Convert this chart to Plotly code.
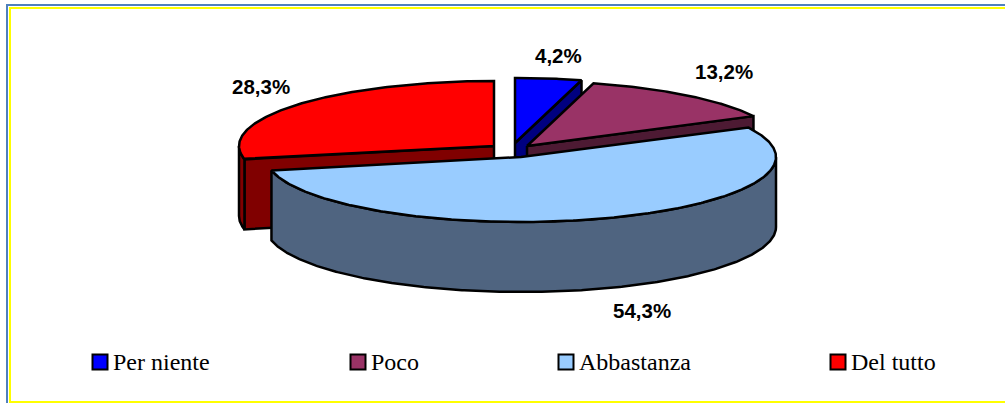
import numpy as np
import plotly.graph_objects as go

# ---- data ----
categories = ["Per niente", "Poco", "Abbastanza", "Del tutto"]
shares = [4.2, 13.2, 54.3, 28.3]

# ---- style ----
top_colors = ["#0000FF", "#993366", "#99CCFF", "#FF0000"]
side_colors = ["#000080", "#4D1A33", "#4F6480", "#800000"]

# ---- layout of the pseudo-3D pie, in page pixels ----
W, H = 1005, 403
A, B, DEPTH = 255, 65, 70
CENTRES = {"Per niente": (515, 143), "Poco": (527, 146), "Abbastanza": (521, 157), "Del tutto": (494, 146)}
LABEL_POS = {"Per niente": (558, 55), "Poco": (724, 71), "Abbastanza": (642, 310), "Del tutto": (261, 86)}
LEGEND_MARK_X = [100, 358, 566, 838]
LEGEND_TEXT_X = [113, 371, 579, 851]
LEGEND_Y = 362
DRAW_ORDER = ["Del tutto", "Per niente", "Poco", "Abbastanza"]


def arc(c, t0, t1, dy=0):
    t = np.radians(np.linspace(t0, t1, max(2, int(abs(t1 - t0) * 2))))
    return c[0] + A * np.sin(t), c[1] - B * np.cos(t) + dy


def poly(x, y, color):
    return go.Scatter(
        x=np.append(x, x[0]), y=np.append(y, y[0]), mode="lines", fill="toself",
        fillcolor=color, line=dict(color="black", width=2.5), hoverinfo="skip", showlegend=False,
    )


edges = np.concatenate([[0], np.cumsum(shares)]) * 3.6
fig = go.Figure()

for name in DRAW_ORDER:
    i = categories.index(name)
    t0, t1 = edges[i], edges[i + 1]
    c = CENTRES[name]
    side = side_colors[i]

    # straight cut face of the slice (front-facing for all but Abbastanza)
    if name != "Abbastanza":
        ex, ey = arc(c, t1, t1 + 0.01)
        if name == "Del tutto":
            ex, ey = arc(c, t0, t0 + 0.01)
        fig.add_trace(poly(np.array([c[0], ex[0], ex[0], c[0]]),
                           np.array([c[1], ey[0], ey[0] + DEPTH, c[1] + DEPTH]), side))

    # rounded outer wall: only the part on the near half of the ellipse
    lo, hi = max(t0, 90), min(t1, 270)
    if hi > lo:
        ox, oy = arc(c, lo, hi)
        ux, uy = arc(c, hi, lo, DEPTH)
        fig.add_trace(poly(np.concatenate([ox, ux]), np.concatenate([oy, uy]), side))

    # top face
    ax, ay = arc(c, t0, t1)
    fig.add_trace(poly(np.concatenate([[c[0]], ax]), np.concatenate([[c[1]], ay]), top_colors[i]))

# percent labels
for name, v in zip(categories, shares):
    lx, ly = LABEL_POS[name]
    fig.add_annotation(x=lx, y=ly, text=f"<b>{v:.1f}%</b>".replace(".", ","), showarrow=False,
                       font=dict(family="Liberation Sans", size=20.5, color="black"))

# legend row
for name, color, mx, tx in zip(categories, top_colors, LEGEND_MARK_X, LEGEND_TEXT_X):
    fig.add_trace(go.Scatter(
        x=[mx], y=[LEGEND_Y], mode="markers",
        marker=dict(symbol="square", size=15, color=color, line=dict(color="black", width=2)),
        hoverinfo="skip", showlegend=False, cliponaxis=False,
    ))
    fig.add_annotation(x=tx, y=LEGEND_Y, text=name, showarrow=False, xanchor="left", xshift=-2,
                       font=dict(family="Liberation Serif", size=24, color="black"))


# frame lines
def frame(x0, y0, x1, y1, color):
    fig.add_shape(type="rect", x0=x0, y0=y0, x1=x1, y1=y1, fillcolor=color, line_width=0, layer="below")


frame(6, 4, W, 6, "#4F81BD")
frame(6, 4, 8, H, "#4F81BD")
frame(9, 7, W, 9, "#FFFF00")
frame(9, 7, 11, H, "#FFFF00")
frame(9, 401, W, H, "#FFFF00")

fig.update_layout(
    width=W, height=H, margin=dict(l=0, r=0, t=0, b=0), autosize=False,
    paper_bgcolor="white", plot_bgcolor="white", showlegend=False,
    xaxis=dict(range=[0, W], visible=False, fixedrange=True),
    yaxis=dict(range=[H, 0], visible=False, fixedrange=True),
)
fig.write_html(
    "out.html",
    config={"displayModeBar": False},
    post_script="document.body.style.margin='0';document.body.style.overflow='hidden';",
)
